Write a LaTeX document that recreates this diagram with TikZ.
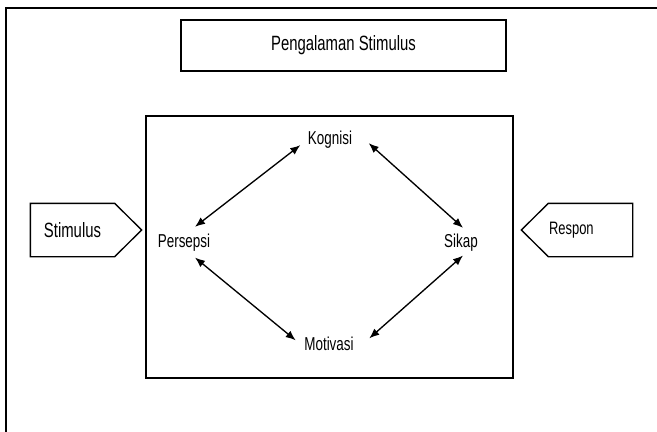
\documentclass[tikz,border=0pt]{standalone}
\usepackage{fontspec}
\setmainfont{Liberation Sans}[FakeStretch=0.72]
\usetikzlibrary{arrows.meta}

\begin{document}
\begin{tikzpicture}[x=0.75pt,y=-0.75pt,line width=1pt,
  >={Latex[length=7.5pt,width=6pt]},
  lbl/.style={inner sep=0pt,anchor=base,font=\fontsize{14}{16}\selectfont},
  big/.style={font=\fontsize{15.5}{18}\selectfont}]
  \useasboundingbox (0,0) rectangle (657,432);
  \draw[line width=1.2pt] (6,432) -- (6,8) -- (657,8);
  \node[draw,big,minimum width=243.75pt,minimum height=38.25pt] (exp) at (343.5,45.5) {Pengalaman Stimulus};
  \draw (146,116) rectangle (513,378);
  \node[lbl] (K) at (330,144) {Kognisi};
  \node[lbl] (P) at (184,247) {Persepsi};
  \node[lbl] (S) at (461,247) {Sikap};
  \node[lbl] (M) at (329,350) {Motivasi};
  \node[big,minimum width=62.25pt,minimum height=39pt] (stim) at (72.5,230) {Stimulus};
  \draw (stim.north west) -- (stim.north east) -- ([shift={(27,0)}]stim.east)
    -- (stim.south east) -- (stim.south west) -- cycle;
  \node[inner sep=0pt,text width=62.25pt,minimum height=39pt,align=left,
    font=\fontsize{13.5}{16}\selectfont] (resp) at (590.5,230) {Respon};
  \draw (resp.north east) -- (resp.north west) -- ([shift={(-27,0)}]resp.west)
    -- (resp.south west) -- (resp.south east) -- cycle;
  \draw[<->] ([shift={(-7,6)}]K.west) -- ([shift={(11,-6)}]P.north);
  \draw[<->] ([shift={(16,4)}]K.east) -- ([shift={(2,-5)}]S.north);
  \draw[<->] ([shift={(11,6)}]P.south) -- ([shift={(-8,-3)}]M.west);
  \draw[<->] ([shift={(2,4)}]S.south) -- ([shift={(15,-5)}]M.east);
\end{tikzpicture}
\end{document}
